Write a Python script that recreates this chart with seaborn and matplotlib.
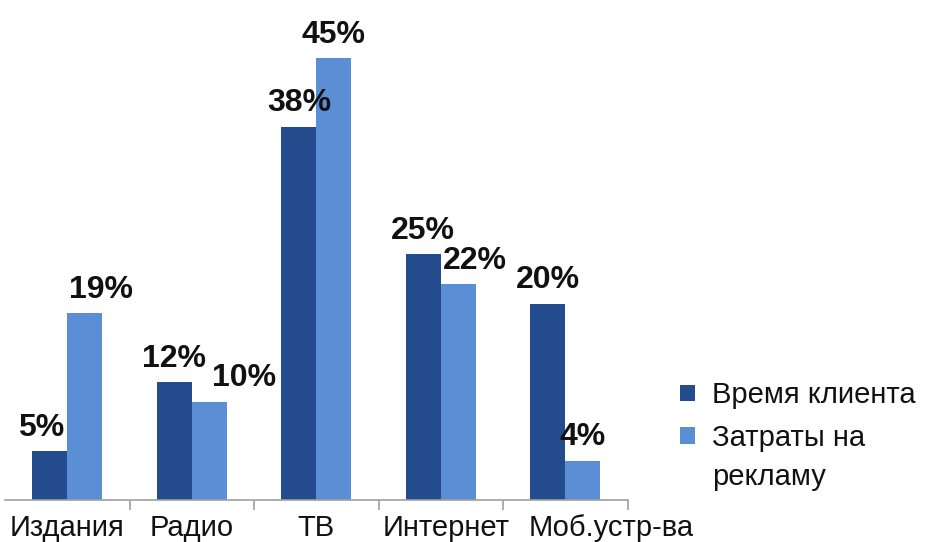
import matplotlib
matplotlib.use("Agg")
import matplotlib.pyplot as plt
import matplotlib.patches as mpatches
from matplotlib.legend_handler import HandlerPatch
from matplotlib.ticker import FixedLocator
from matplotlib.transforms import ScaledTranslation
import seaborn as sns
import pandas as pd

categories = ["Издания", "Радио", "ТВ", "Интернет", "Моб.устр-ва"]
series_names = ["Время клиента", "Затраты на\nрекламу"]
time_share = [5, 12, 38, 25, 20]
ad_spend = [19, 10, 45, 22, 4]

colors = ["#234b8e", "#5b8fd5"]

df = pd.DataFrame({
    "category": categories * 2,
    "series": [series_names[0]] * len(categories) + [series_names[1]] * len(categories),
    "value": time_share + ad_spend,
})

sns.set_theme(style="white")
plt.rcParams["font.family"] = ["Liberation Sans", "DejaVu Sans"]

fig = plt.figure(figsize=(9.34, 5.42), dpi=100)
ax = fig.add_axes([0.0054, 0.0775, 0.6665, 0.9225])

sns.barplot(data=df, x="category", y="value", hue="series", order=categories,
            hue_order=series_names, palette=colors, width=0.56, gap=0,
            saturation=1, legend=False, ax=ax, edgecolor="none")

ax.set_xlim(-0.5, len(categories) - 0.5)
ax.set_ylim(0, 50.9)

# value labels, with a few nudged sideways so neighbours don't collide
nudges = {(0, 0): -6, (0, 1): 12, (1, 1): 25, (3, 1): 12}
for s_idx, container in enumerate(ax.containers):
    for c_idx, bar in enumerate(container):
        val = bar.get_height()
        ax.annotate(f"{val:.0f}%",
                    xy=(bar.get_x() + bar.get_width() / 2, val),
                    xytext=(nudges.get((c_idx, s_idx), 0), 11),
                    textcoords="offset points", ha="center", va="baseline",
                    fontsize=23, fontweight="bold", color="#111111")

for side in ["left", "right", "top"]:
    ax.spines[side].set_visible(False)
ax.spines["bottom"].set_color("#a0a0a0")
ax.spines["bottom"].set_linewidth(1.2)

ax.set_yticks([])
ax.set_xlabel("")
ax.set_ylabel("")
ax.tick_params(axis="x", which="major", length=0, pad=10, labelsize=21,
               labelcolor="#111111")
ax.xaxis.set_minor_locator(FixedLocator([i + 0.5 for i in range(len(categories))]))
ax.tick_params(axis="x", which="minor", bottom=True, length=7, width=1.2,
               color="#a0a0a0", direction="out")

# shift the long last category name to the right of its group
label_shift_pt = {3: 4, 4: 33}
for i, lab in enumerate(ax.get_xticklabels()):
    dx = label_shift_pt.get(i, 0)
    if dx:
        lab.set_transform(lab.get_transform()
                          + ScaledTranslation(dx / 72, 0, fig.dpi_scale_trans))


def top_aligned(shift):
    def make(legend, orig_handle, xdescent, ydescent, width, height, fontsize):
        return mpatches.Rectangle((-xdescent, -ydescent + shift), width, height)
    return make


handles = [mpatches.Patch(facecolor=c, edgecolor="none") for c in colors]
handler_map = {handles[0]: HandlerPatch(),
               handles[1]: HandlerPatch(patch_func=top_aligned(16))}
leg = fig.legend(handles, series_names, loc="upper left",
                 bbox_to_anchor=(0.7, 0.345), frameon=False, fontsize=21,
                 handlelength=0.5, handleheight=0.5, handletextpad=0.6,
                 labelspacing=0.5, labelcolor="#111111", handler_map=handler_map)
for t in leg.get_texts():
    t.set_linespacing(1.5)

fig.savefig("out.png", dpi=100, facecolor="white")
